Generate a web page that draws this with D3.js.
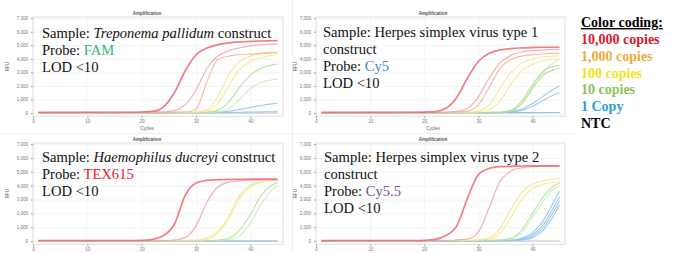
<!DOCTYPE html>
<html>
<head>
<meta charset="utf-8">
<script src="https://cdn.jsdelivr.net/npm/d3@7"></script>
<style>
  body { margin: 0; background: #fff; }
  svg { display: block; }
  .serif { font-family: "Liberation Serif", "Times New Roman", Times, "DejaVu Serif", serif; }
</style>
</head>
<body>
<div id="chart"></div>
<script>
const cycles = [1, 18, 20, 22, 24, 26, 28, 30, 32, 34, 36, 38, 40, 42, 44, 45];
const yTicks = [0, 1000, 2000, 3000, 4000, 5000, 6000, 7000];
const xTicks = [0, 10, 20, 30, 40];

// Treponema pallidum (FAM)
const tpSeries = [
  { shade: "ntc",     v: [10, 10, 10, 10, 10, 10, 10, 10, 10, 10, 10, 10, 10, 10, 10, 10] },
  { shade: "blue",    v: [20, 20, 20, 20, 20, 30, 30, 30, 30, 40, 50, 60, 80, 90, 100, 110] },
  { shade: "blue",    v: [20, 20, 20, 20, 30, 30, 30, 30, 40, 70, 140, 270, 420, 560, 680, 720] },
  { shade: "green2",  v: [20, 20, 20, 30, 30, 30, 40, 40, 50, 80, 300, 1000, 1800, 2250, 2450, 2500] },
  { shade: "green",   v: [20, 20, 30, 30, 30, 40, 40, 50, 60, 200, 800, 1900, 2800, 3300, 3550, 3620] },
  { shade: "yellow",  v: [30, 30, 30, 40, 40, 50, 50, 60, 150, 700, 2000, 3200, 3800, 4100, 4250, 4300] },
  { shade: "yellow2", v: [30, 30, 30, 40, 40, 50, 60, 70, 250, 1200, 2800, 3800, 4200, 4400, 4480, 4500] },
  { shade: "orange",  v: [40, 40, 40, 40, 50, 60, 80, 300, 2300, 3950, 4200, 4300, 4350, 4400, 4430, 4450] },
  { shade: "pink",    v: [40, 50, 50, 60, 80, 180, 600, 1700, 3300, 4200, 4600, 4800, 4950, 5030, 5080, 5100] },
  { shade: "red",     v: [50, 60, 80, 120, 450, 1500, 3100, 4300, 4800, 5050, 5170, 5240, 5280, 5310, 5330, 5340] }
];

// Herpes simplex virus type 1 (Cy5)
const hsv1Series = [
  { shade: "ntc",     v: [30, 30, 30, 30, 30, 30, 30, 30, 30, 30, 30, 30, 30, 30, 40, 40] },
  { shade: "blue",    v: [20, 20, 20, 20, 20, 20, 30, 30, 30, 30, 30, 30, 40, 40, 40, 40] },
  { shade: "blue",    v: [20, 20, 20, 20, 20, 30, 30, 30, 30, 30, 80, 200, 500, 950, 1350, 1500] },
  { shade: "blue",    v: [20, 20, 20, 20, 30, 30, 30, 30, 30, 40, 100, 300, 700, 1250, 1800, 2000] },
  { shade: "green2",  v: [20, 20, 20, 30, 30, 30, 30, 40, 40, 50, 150, 700, 1900, 3000, 3750, 3950] },
  { shade: "green",   v: [20, 20, 20, 30, 30, 30, 40, 40, 40, 50, 150, 700, 1800, 2800, 3200, 3300] },
  { shade: "green",   v: [20, 20, 30, 30, 30, 30, 40, 40, 50, 60, 200, 900, 2100, 3100, 3450, 3500] },
  { shade: "yellow",  v: [30, 30, 30, 40, 40, 50, 60, 80, 250, 900, 2100, 3100, 3600, 3850, 3970, 4000] },
  { shade: "yellow2", v: [30, 30, 40, 40, 40, 50, 60, 150, 600, 1800, 3000, 3700, 4000, 4150, 4200, 4220] },
  { shade: "orange",  v: [40, 40, 40, 50, 60, 80, 150, 600, 1900, 3300, 3950, 4200, 4300, 4350, 4400, 4400] },
  { shade: "pink",    v: [40, 50, 50, 50, 60, 120, 350, 1200, 2600, 3700, 4250, 4500, 4600, 4650, 4700, 4700] },
  { shade: "red",     v: [50, 60, 70, 110, 350, 1150, 2600, 3800, 4400, 4650, 4750, 4800, 4830, 4850, 4850, 4850] }
];

// Haemophilus ducreyi (TEX615)
const hdSeries = [
  { shade: "ntc",     v: [0, 0, 0, 0, 0, 0, 0, 0, 0, 0, 0, 0, 0, 0, 0, 0] },
  { shade: "blue",    v: [20, 20, 20, 20, 20, 20, 20, 20, 20, 20, 20, 20, 20, 20, 20, 20] },
  { shade: "green2",  v: [20, 20, 20, 20, 30, 30, 30, 40, 40, 50, 100, 400, 1300, 2700, 3700, 4050] },
  { shade: "green",   v: [20, 20, 20, 30, 30, 30, 40, 40, 40, 60, 200, 800, 1900, 3300, 4050, 4250] },
  { shade: "yellow",  v: [30, 30, 30, 30, 30, 40, 40, 50, 120, 600, 1600, 3100, 3950, 4250, 4350, 4380] },
  { shade: "yellow2", v: [30, 30, 30, 30, 40, 40, 50, 60, 200, 700, 1800, 3300, 4050, 4300, 4380, 4400] },
  { shade: "pink",    v: [30, 30, 40, 40, 40, 80, 250, 1100, 2800, 3900, 4250, 4350, 4400, 4420, 4430, 4430] },
  { shade: "red",     v: [30, 40, 50, 120, 400, 1200, 3300, 4200, 4380, 4430, 4450, 4460, 4470, 4470, 4470, 4470] }
];

// Herpes simplex virus type 2 (Cy5.5)
const hsv2Series = [
  { shade: "ntc",     v: [10, 10, 10, 10, 10, 10, 10, 10, 10, 10, 10, 10, 10, 10, 10, 10] },
  { shade: "blue",    v: [20, 20, 20, 20, 20, 20, 20, 30, 30, 30, 40, 80, 250, 800, 1900, 2600] },
  { shade: "blue",    v: [20, 20, 20, 20, 20, 20, 30, 30, 30, 30, 40, 110, 350, 1000, 2200, 2900] },
  { shade: "blue",    v: [20, 20, 20, 20, 20, 30, 30, 30, 30, 40, 50, 150, 450, 1200, 2500, 3200] },
  { shade: "blue",    v: [20, 20, 20, 20, 30, 30, 30, 30, 40, 40, 60, 200, 600, 1500, 2900, 3600] },
  { shade: "green2",  v: [20, 20, 20, 30, 30, 30, 40, 40, 50, 60, 150, 600, 1700, 2900, 3800, 4000] },
  { shade: "green",   v: [20, 20, 30, 30, 30, 40, 40, 50, 60, 80, 200, 800, 2000, 3200, 4000, 4200] },
  { shade: "yellow",  v: [30, 30, 30, 40, 40, 50, 50, 60, 150, 600, 1700, 3000, 3800, 4100, 4250, 4300] },
  { shade: "yellow2", v: [30, 30, 30, 40, 40, 50, 60, 80, 250, 900, 2300, 3500, 4100, 4350, 4480, 4500] },
  { shade: "pink",    v: [30, 40, 40, 50, 60, 80, 150, 650, 2400, 4300, 5050, 5300, 5380, 5400, 5410, 5410] },
  { shade: "red",     v: [30, 40, 60, 130, 400, 1100, 3100, 4800, 5250, 5370, 5400, 5420, 5430, 5430, 5430, 5430] }
];

const legendLabels = ["10,000 copies", "1,000 copies", "100 copies", "10 copies", "1 Copy", "NTC"];
const legendColors = ["#d81b2c", "#f0ac3a", "#f3e41c", "#8cc35c", "#2a9ed8", "#000000"];

const shadeStyle = {
  red:     { c: "#f26e7a", w: 1.7, o: 0.9 },
  pink:    { c: "#f59fa8", w: 1.2, o: 0.85 },
  orange:  { c: "#f8b48e", w: 1.2, o: 0.85 },
  yellow:  { c: "#f2ec78", w: 1.1, o: 0.85 },
  yellow2: { c: "#f6e292", w: 1.1, o: 0.85 },
  green:   { c: "#a8e090", w: 1.1, o: 0.85 },
  green2:  { c: "#c6ecb4", w: 1.1, o: 0.85 },
  blue:    { c: "#8cc1ea", w: 1.1, o: 0.85 },
  ntc:     { c: "#6a7a98", w: 0.8, o: 0.5 }
};

const panels = [
  { series: tpSeries, left: 33, top: 17, right: 283, bottom: 116.2, title: 147, rfu: 9, cycles: true,
    tx: 42, ty: 38,
    lines: [
      [["Sample: "], ["Treponema pallidum", "italic"], [" construct"]],
      [["Probe: "], ["FAM", null, "#2db873"]],
      [["LOD <10"]]
    ] },
  { series: hsv1Series, left: 316, top: 17, right: 565, bottom: 116.2, title: 433, rfu: 297, cycles: true,
    tx: 323, ty: 37,
    lines: [
      [["Sample: Herpes simplex virus type 1"]],
      [["construct"]],
      [["Probe: "], ["Cy5", null, "#3a8fd0"]],
      [["LOD <10"]]
    ] },
  { series: hdSeries, left: 33, top: 143, right: 283, bottom: 244.3, title: 147, rfu: 9, cycles: false,
    tx: 42, ty: 162,
    lines: [
      [["Sample: "], ["Haemophilus ducreyi", "italic"], [" construct"]],
      [["Probe: "], ["TEX615", null, "#e8202a"]],
      [["LOD <10"]]
    ] },
  { series: hsv2Series, left: 316, top: 143, right: 565, bottom: 244.3, title: 433, rfu: 297, cycles: false,
    tx: 324, ty: 162,
    lines: [
      [["Sample: Herpes simplex virus type 2"]],
      [["construct"]],
      [["Probe: "], ["Cy5.5", null, "#7b4ea3"]],
      [["LOD <10"]]
    ] }
];

const width = 678, height = 253;
const svg = d3.select("#chart").append("svg")
  .attr("width", width)
  .attr("height", height);

// faint borders of the four exported chart images
svg.append("line").attr("x1", 0).attr("x2", 578).attr("y1", 133.5).attr("y2", 133.5)
  .attr("stroke", "#ececec").attr("stroke-width", 0.8);
svg.append("line").attr("x1", 292.5).attr("x2", 292.5).attr("y1", 0).attr("y2", 253)
  .attr("stroke", "#ececec").attr("stroke-width", 0.8);

panels.forEach(p => {
  const g = svg.append("g");
  const x = d3.scaleLinear().domain([0, 46]).range([p.left, p.right]);
  const y = d3.scaleLinear().domain([-230, 7080]).range([p.bottom, p.top]);

  // grid
  g.append("g")
    .attr("transform", `translate(0,${p.bottom})`)
    .call(d3.axisBottom(x).tickValues(xTicks).tickSize(-(p.bottom - p.top)).tickFormat(""))
    .call(a => a.select(".domain").remove())
    .call(a => a.selectAll("line").attr("stroke", "#eeeeee").attr("stroke-width", 0.6));
  g.append("g")
    .attr("transform", `translate(${p.left},0)`)
    .call(d3.axisLeft(y).tickValues(yTicks).tickSize(-(p.right - p.left)).tickFormat(""))
    .call(a => a.select(".domain").remove())
    .call(a => a.selectAll("line").attr("stroke", "#eeeeee").attr("stroke-width", 0.6));

  // axes with tiny labels
  g.append("g")
    .attr("transform", `translate(${p.left},0)`)
    .call(d3.axisLeft(y).tickValues(yTicks).tickSize(2).tickPadding(3))
    .call(a => a.select(".domain").remove())
    .call(a => a.selectAll("line").attr("stroke", "#999"))
    .call(a => a.selectAll("text").attr("font-size", 4.5).attr("fill", "#777").attr("font-family", "Arial, sans-serif"));
  g.append("g")
    .attr("transform", `translate(0,${p.bottom})`)
    .call(d3.axisBottom(x).tickValues(xTicks).tickSize(2).tickPadding(2))
    .call(a => a.select(".domain").remove())
    .call(a => a.selectAll("line").attr("stroke", "#999"))
    .call(a => a.selectAll("text").attr("font-size", 4.5).attr("fill", "#777").attr("font-family", "Arial, sans-serif"));

  g.append("rect")
    .attr("x", p.left).attr("y", p.top)
    .attr("width", p.right - p.left).attr("height", p.bottom - p.top)
    .attr("fill", "none").attr("stroke", "#d4d4d4").attr("stroke-width", 0.7);

  g.append("text")
    .attr("x", p.title).attr("y", p.top - 2.5)
    .attr("text-anchor", "middle")
    .attr("font-family", "Arial, sans-serif").attr("font-size", 4.5).attr("font-weight", "bold")
    .attr("fill", "#555").text("Amplification");
  if (p.cycles) {
    g.append("text")
      .attr("x", p.title).attr("y", p.bottom + 14)
      .attr("text-anchor", "middle")
      .attr("font-family", "Arial, sans-serif").attr("font-size", 4.5)
      .attr("fill", "#666").text("Cycles");
  }
  g.append("text")
    .attr("transform", `translate(${p.rfu},${(p.top + p.bottom) / 2}) rotate(-90)`)
    .attr("text-anchor", "middle")
    .attr("font-family", "Arial, sans-serif").attr("font-size", 4.5)
    .attr("fill", "#666").text("RFU");

  // amplification curves
  const line = d3.line()
    .x((d, i) => x(cycles[i]))
    .y(d => y(d))
    .curve(d3.curveMonotoneX);
  g.append("g").selectAll("path")
    .data(p.series)
    .join("path")
    .attr("d", s => line(s.v))
    .attr("fill", "none")
    .attr("stroke", s => shadeStyle[s.shade].c)
    .attr("stroke-width", s => shadeStyle[s.shade].w)
    .attr("stroke-opacity", s => shadeStyle[s.shade].o);

  // annotation text
  p.lines.forEach((ln, li) => {
    const t = g.append("text")
      .attr("class", "serif")
      .attr("x", p.tx).attr("y", p.ty + li * 17)
      .attr("font-size", 14.6)
      .attr("fill", "#111");
    ln.forEach(part => {
      t.append("tspan")
        .attr("font-style", part[1] || null)
        .attr("fill", part[2] || null)
        .text(part[0]);
    });
  });
});

// legend
const legend = svg.append("g")
  .attr("class", "serif")
  .attr("font-weight", "bold")
  .attr("font-size", 14);
legend.append("text")
  .attr("x", 581).attr("y", 27)
  .attr("text-decoration", "underline")
  .attr("fill", "#000")
  .text("Color coding:");
legend.selectAll("text.item")
  .data(legendLabels)
  .join("text")
  .attr("class", "item")
  .attr("x", 581)
  .attr("y", (d, i) => 44 + i * 16.8)
  .attr("fill", (d, i) => legendColors[i])
  .text(d => d);
</script>
</body>
</html>
